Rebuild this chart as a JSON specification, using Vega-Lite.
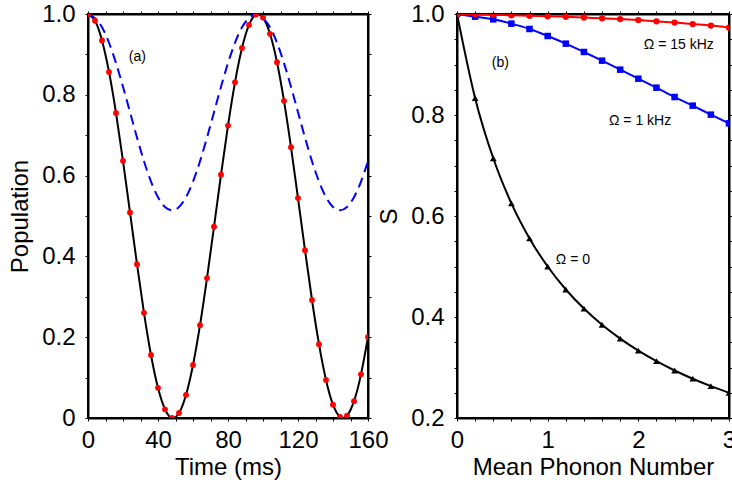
{
  "$schema": "https://vega.github.io/schema/vega-lite/v6.json",
  "background": "white",
  "padding": {"left": 7, "top": 1, "right": 0, "bottom": 2},
  "bounds": "flush",
  "spacing": 89,
  "config": {
    "font": "Liberation Sans",
    "view": {"stroke": "black", "strokeWidth": 2},
    "axis": {
      "domainColor": "black", "domainWidth": 2, "tickColor": "black", "tickWidth": 1, "tickSize": 3,
      "labelFont": "Liberation Sans", "labelFontSize": 24, "labelColor": "black", "labelPadding": 10,
      "titleFont": "Liberation Sans", "titleFontSize": 24, "titleFontWeight": "normal", "titleColor": "black",
      "grid": false, "labelFlush": false, "labelOverlap": false
    },
    "axisBottom": {"labelPadding": 7}
  },
  "datasets": {
    "timeA": [
      {"t": 0, "black": 1, "blue": 1},
      {"t": 4, "black": 0.9833, "blue": 0.9897},
      {"t": 8, "black": 0.9345, "blue": 0.9674},
      {"t": 12, "black": 0.8567, "blue": 0.9288},
      {"t": 16, "black": 0.7552, "blue": 0.8785},
      {"t": 20, "black": 0.6366, "blue": 0.8199},
      {"t": 24, "black": 0.5089, "blue": 0.757},
      {"t": 28, "black": 0.3807, "blue": 0.6941},
      {"t": 32, "black": 0.2603, "blue": 0.6355},
      {"t": 36, "black": 0.156, "blue": 0.5852},
      {"t": 40, "black": 0.0746, "blue": 0.5466},
      {"t": 44, "black": 0.0215, "blue": 0.5223},
      {"t": 48, "black": 0.0003, "blue": 0.514},
      {"t": 52, "black": 0.0124, "blue": 0.5223},
      {"t": 56, "black": 0.057, "blue": 0.5466},
      {"t": 60, "black": 0.1311, "blue": 0.5852},
      {"t": 64, "black": 0.2298, "blue": 0.6355},
      {"t": 68, "black": 0.3464, "blue": 0.6941},
      {"t": 72, "black": 0.4733, "blue": 0.757},
      {"t": 76, "black": 0.6021, "blue": 0.8199},
      {"t": 80, "black": 0.7239, "blue": 0.8785},
      {"t": 84, "black": 0.8309, "blue": 0.9288},
      {"t": 88, "black": 0.9158, "blue": 0.9674},
      {"t": 92, "black": 0.973, "blue": 0.9897},
      {"t": 96, "black": 0.9987, "blue": 1},
      {"t": 100, "black": 0.9912, "blue": 0.9897},
      {"t": 104, "black": 0.951, "blue": 0.9674},
      {"t": 108, "black": 0.8807, "blue": 0.9288},
      {"t": 112, "black": 0.785, "blue": 0.8785},
      {"t": 116, "black": 0.6704, "blue": 0.8199},
      {"t": 120, "black": 0.5444, "blue": 0.757},
      {"t": 124, "black": 0.4154, "blue": 0.6941},
      {"t": 128, "black": 0.2921, "blue": 0.6355},
      {"t": 132, "black": 0.1827, "blue": 0.5852},
      {"t": 136, "black": 0.0943, "blue": 0.5466},
      {"t": 140, "black": 0.033, "blue": 0.5223},
      {"t": 144, "black": 0.0028, "blue": 0.514},
      {"t": 148, "black": 0.0058, "blue": 0.5223},
      {"t": 152, "black": 0.0416, "blue": 0.5466},
      {"t": 156, "black": 0.108, "blue": 0.5852},
      {"t": 160, "black": 0.2006, "blue": 0.6355}
    ],
    "phonon": [
      {"n": 0, "S": 1, "series": "Ω = 0"},
      {"n": 0.2, "S": 0.8333, "series": "Ω = 0"},
      {"n": 0.4, "S": 0.7143, "series": "Ω = 0"},
      {"n": 0.6, "S": 0.625, "series": "Ω = 0"},
      {"n": 0.8, "S": 0.5556, "series": "Ω = 0"},
      {"n": 1.0, "S": 0.5, "series": "Ω = 0"},
      {"n": 1.2, "S": 0.4545, "series": "Ω = 0"},
      {"n": 1.4, "S": 0.4167, "series": "Ω = 0"},
      {"n": 1.6, "S": 0.3846, "series": "Ω = 0"},
      {"n": 1.8, "S": 0.3571, "series": "Ω = 0"},
      {"n": 2.0, "S": 0.3333, "series": "Ω = 0"},
      {"n": 2.2, "S": 0.3125, "series": "Ω = 0"},
      {"n": 2.4, "S": 0.2941, "series": "Ω = 0"},
      {"n": 2.6, "S": 0.2778, "series": "Ω = 0"},
      {"n": 2.8, "S": 0.2632, "series": "Ω = 0"},
      {"n": 3.0, "S": 0.25, "series": "Ω = 0"},
      {"n": 0, "S": 1, "series": "Ω = 1 kHz"},
      {"n": 0.2, "S": 0.9947, "series": "Ω = 1 kHz"},
      {"n": 0.4, "S": 0.9894, "series": "Ω = 1 kHz"},
      {"n": 0.6, "S": 0.9809, "series": "Ω = 1 kHz"},
      {"n": 0.8, "S": 0.9703, "series": "Ω = 1 kHz"},
      {"n": 1.0, "S": 0.9564, "series": "Ω = 1 kHz"},
      {"n": 1.2, "S": 0.9413, "series": "Ω = 1 kHz"},
      {"n": 1.4, "S": 0.9248, "series": "Ω = 1 kHz"},
      {"n": 1.6, "S": 0.9076, "series": "Ω = 1 kHz"},
      {"n": 1.8, "S": 0.8898, "series": "Ω = 1 kHz"},
      {"n": 2.0, "S": 0.8719, "series": "Ω = 1 kHz"},
      {"n": 2.2, "S": 0.8541, "series": "Ω = 1 kHz"},
      {"n": 2.4, "S": 0.8356, "series": "Ω = 1 kHz"},
      {"n": 2.6, "S": 0.8185, "series": "Ω = 1 kHz"},
      {"n": 2.8, "S": 0.8007, "series": "Ω = 1 kHz"},
      {"n": 3.0, "S": 0.7835, "series": "Ω = 1 kHz"},
      {"n": 0, "S": 1, "series": "Ω = 15 kHz"},
      {"n": 0.2, "S": 0.9995, "series": "Ω = 15 kHz"},
      {"n": 0.4, "S": 0.9985, "series": "Ω = 15 kHz"},
      {"n": 0.6, "S": 0.9975, "series": "Ω = 15 kHz"},
      {"n": 0.8, "S": 0.9965, "series": "Ω = 15 kHz"},
      {"n": 1.0, "S": 0.9955, "series": "Ω = 15 kHz"},
      {"n": 1.2, "S": 0.9945, "series": "Ω = 15 kHz"},
      {"n": 1.4, "S": 0.993, "series": "Ω = 15 kHz"},
      {"n": 1.6, "S": 0.9915, "series": "Ω = 15 kHz"},
      {"n": 1.8, "S": 0.99, "series": "Ω = 15 kHz"},
      {"n": 2.0, "S": 0.988, "series": "Ω = 15 kHz"},
      {"n": 2.2, "S": 0.9855, "series": "Ω = 15 kHz"},
      {"n": 2.4, "S": 0.983, "series": "Ω = 15 kHz"},
      {"n": 2.6, "S": 0.98, "series": "Ω = 15 kHz"},
      {"n": 2.8, "S": 0.977, "series": "Ω = 15 kHz"},
      {"n": 3.0, "S": 0.973, "series": "Ω = 15 kHz"}
    ]
  },
  "hconcat": [
    {
      "width": 280,
      "height": 404,
      "data": {"name": "timeA"},
      "layer": [
        {
          "mark": {"type": "line", "color": "black", "strokeWidth": 2, "interpolate": "natural", "clip": true},
          "encoding": {
            "x": {"field": "t", "type": "quantitative", "scale": {"domain": [0, 160], "nice": false, "zero": false},
              "axis": {"orient": "bottom", "title": "Time (ms)", "titlePadding": 3,
                "values": [0, 10, 20, 30, 40, 50, 60, 70, 80, 90, 100, 110, 120, 130, 140, 150, 160],
                "labelExpr": "datum.value % 40 == 0 ? format(datum.value, 'd') : ''"}},
            "y": {"field": "black", "type": "quantitative", "scale": {"domain": [0, 1], "nice": false, "zero": false},
              "axis": {"orient": "left", "title": "Population", "titlePadding": 9,
                "values": [0, 0.1, 0.2, 0.3, 0.4, 0.5, 0.6, 0.7, 0.8, 0.9, 1.0],
                "labelExpr": "round(datum.value * 10) % 2 == 0 ? (datum.value == 0 ? '0' : format(datum.value, '.1f')) : ''"}}
          }
        },
        {
          "mark": {"type": "line", "color": "#0000ff", "strokeWidth": 2, "strokeDash": [10, 6], "interpolate": "natural", "clip": true},
          "encoding": {
            "x": {"field": "t", "type": "quantitative", "axis": null},
            "y": {"field": "blue", "type": "quantitative", "axis": null}
          }
        },
        {
          "mark": {"type": "point", "filled": true, "color": "#ff0000", "size": 34, "opacity": 1, "clip": true},
          "encoding": {
            "x": {"field": "t", "type": "quantitative",
              "axis": {"orient": "top", "labels": false, "title": null,
                "values": [0, 10, 20, 30, 40, 50, 60, 70, 80, 90, 100, 110, 120, 130, 140, 150, 160]}},
            "y": {"field": "black", "type": "quantitative",
              "axis": {"orient": "right", "labels": false, "title": null,
                "values": [0, 0.1, 0.2, 0.3, 0.4, 0.5, 0.6, 0.7, 0.8, 0.9, 1.0]}}
          }
        },
        {
          "data": {"values": [{"x": 23.3, "y": 0.893, "label": "(a)"}]},
          "mark": {"type": "text", "align": "left", "baseline": "middle", "fontSize": 14, "color": "black", "font": "Liberation Sans"},
          "encoding": {
            "x": {"field": "x", "type": "quantitative", "axis": null},
            "y": {"field": "y", "type": "quantitative", "axis": null},
            "text": {"field": "label"}
          }
        }
      ],
      "resolve": {"axis": {"x": "independent", "y": "independent"}}
    },
    {
      "width": 272,
      "height": 404,
      "data": {"name": "phonon"},
      "layer": [
        {
          "mark": {"type": "line", "strokeWidth": 2, "interpolate": "monotone", "clip": true},
          "encoding": {
            "x": {"field": "n", "type": "quantitative", "scale": {"domain": [0, 3], "nice": false, "zero": false},
              "axis": {"orient": "bottom", "title": "Mean Phonon Number", "titlePadding": 3,
                "values": [0, 0.2, 0.4, 0.6, 0.8, 1, 1.2, 1.4, 1.6, 1.8, 2, 2.2, 2.4, 2.6, 2.8, 3],
                "labelExpr": "abs(datum.value - round(datum.value)) < 0.001 ? format(datum.value, 'd') : ''"}},
            "y": {"field": "S", "type": "quantitative", "scale": {"domain": [0.2, 1], "nice": false, "zero": false},
              "axis": {"orient": "left", "title": "S", "titlePadding": 9,
                "values": [0.2, 0.25, 0.3, 0.35, 0.4, 0.45, 0.5, 0.55, 0.6, 0.65, 0.7, 0.75, 0.8, 0.85, 0.9, 0.95, 1.0],
                "labelExpr": "round(datum.value * 100) % 20 == 0 ? format(datum.value, '.1f') : ''"}},
            "color": {"field": "series", "type": "nominal",
              "scale": {"domain": ["Ω = 0", "Ω = 1 kHz", "Ω = 15 kHz"], "range": ["black", "#0000ff", "#ff0000"]}, "legend": null}
          }
        },
        {
          "transform": [{"filter": "datum.series != 'Ω = 0' || datum.n > 0"}],
          "mark": {"type": "point", "filled": true, "opacity": 1, "clip": true},
          "encoding": {
            "x": {"field": "n", "type": "quantitative",
              "axis": {"orient": "top", "labels": false, "title": null,
                "values": [0, 0.2, 0.4, 0.6, 0.8, 1, 1.2, 1.4, 1.6, 1.8, 2, 2.2, 2.4, 2.6, 2.8, 3]}},
            "y": {"field": "S", "type": "quantitative",
              "axis": {"orient": "right", "labels": false, "title": null,
                "values": [0.2, 0.25, 0.3, 0.35, 0.4, 0.45, 0.5, 0.55, 0.6, 0.65, 0.7, 0.75, 0.8, 0.85, 0.9, 0.95, 1.0]}},
            "color": {"field": "series", "type": "nominal",
              "scale": {"domain": ["Ω = 0", "Ω = 1 kHz", "Ω = 15 kHz"], "range": ["black", "#0000ff", "#ff0000"]}, "legend": null},
            "shape": {"field": "series", "type": "nominal",
              "scale": {"domain": ["Ω = 0", "Ω = 1 kHz", "Ω = 15 kHz"], "range": ["triangle-up", "square", "circle"]}, "legend": null},
            "size": {"field": "series", "type": "nominal",
              "scale": {"domain": ["Ω = 0", "Ω = 1 kHz", "Ω = 15 kHz"], "range": [45, 40, 30]}, "legend": null}
          }
        },
        {
          "data": {"values": [
            {"x": 0.383, "y": 0.902, "label": "(b)"},
            {"x": 2.06, "y": 0.939, "label": "Ω = 15 kHz"},
            {"x": 1.676, "y": 0.789, "label": "Ω = 1 kHz"},
            {"x": 1.09, "y": 0.513, "label": "Ω = 0"}
          ]},
          "mark": {"type": "text", "align": "left", "baseline": "middle", "fontSize": 14, "color": "black", "font": "Liberation Sans"},
          "encoding": {
            "x": {"field": "x", "type": "quantitative", "axis": null},
            "y": {"field": "y", "type": "quantitative", "axis": null},
            "text": {"field": "label"}
          }
        }
      ],
      "resolve": {"axis": {"x": "independent", "y": "independent"}}
    }
  ]
}
